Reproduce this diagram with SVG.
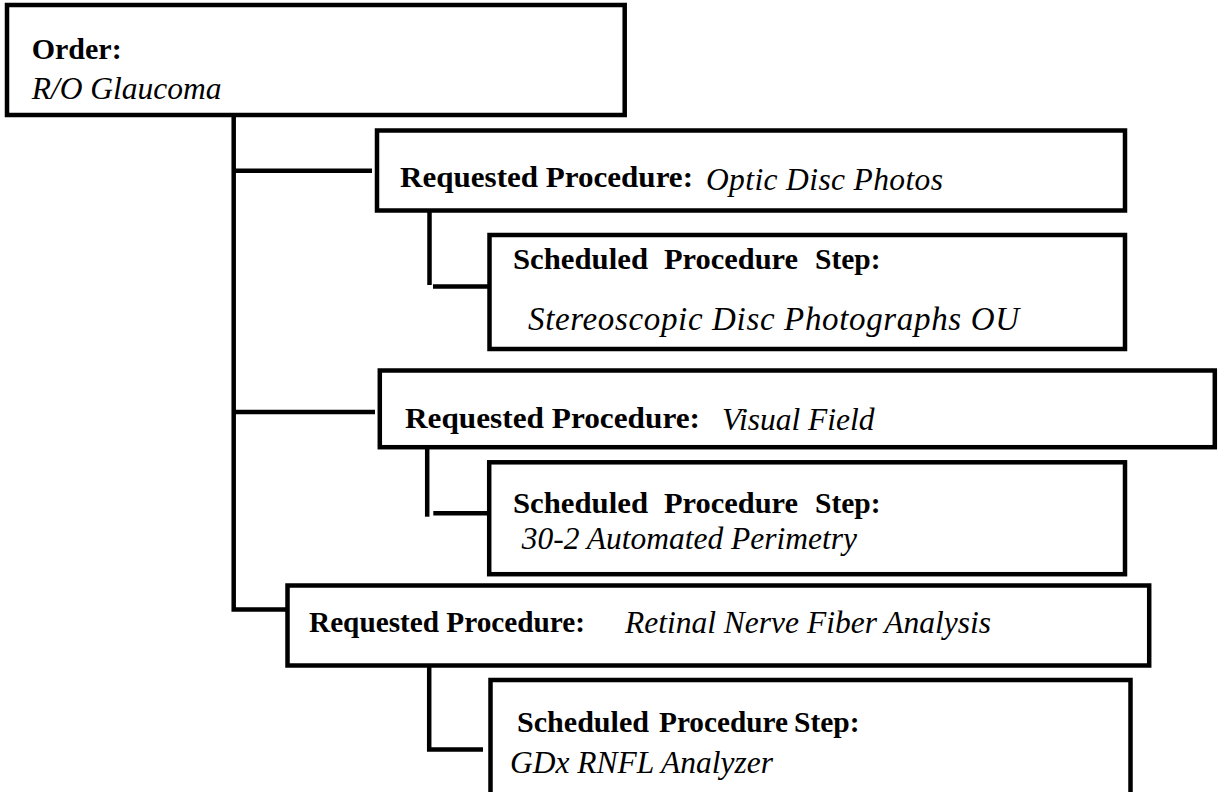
<svg xmlns="http://www.w3.org/2000/svg" width="1218" height="792" viewBox="0 0 1218 792">
<style>
.box{fill:#fff;stroke:#000;stroke-width:4.5}
.ln{fill:none;stroke:#000;stroke-width:4.5;stroke-linecap:butt;stroke-linejoin:miter}
.b{font-family:"Liberation Serif","Times New Roman",serif;font-weight:bold;font-size:29.5px;fill:#000}
.i{font-family:"Liberation Serif","Times New Roman",serif;font-style:italic;font-size:31.5px;fill:#000}
</style>
<rect width="1218" height="792" fill="#fff"/>
<g id="connectors">
<path class="ln" d="M233.7,115 V609.5 H287.5"/>
<path class="ln" d="M233.7,170.8 H372"/>
<path class="ln" d="M233.7,412 H375"/>
<path class="ln" d="M429.5,203 V285"/>
<path class="ln" d="M433,286.5 H489.5"/>
<path class="ln" d="M427.2,435 V516.7"/>
<path class="ln" d="M433.3,513.3 H489.2"/>
<path class="ln" d="M429.2,665.5 V749.5 H483"/>
</g>
<g id="order">
<rect class="box" x="7" y="5" width="617.7" height="110"/>
<text class="b" x="31.7" y="59" textLength="90" lengthAdjust="spacingAndGlyphs">Order:</text>
<text class="i" x="31.7" y="99">R/O Glaucoma</text>
</g>
<g id="rp1">
<rect class="box" x="377" y="130.5" width="748" height="80"/>
<text class="b" x="400" y="187" textLength="293" lengthAdjust="spacingAndGlyphs">Requested Procedure:</text>
<text class="i" x="706" y="190" textLength="237" lengthAdjust="spacing">Optic Disc Photos</text>
</g>
<g id="sps1">
<rect class="box" x="489.5" y="235" width="635.5" height="114"/>
<text class="b" y="269"><tspan x="513" textLength="135" lengthAdjust="spacingAndGlyphs">Scheduled</tspan><tspan x="664" textLength="134" lengthAdjust="spacingAndGlyphs">Procedure</tspan><tspan x="815">Step:</tspan></text>
<text class="i" x="528" y="330" style="font-size:33px" textLength="491" lengthAdjust="spacing">Stereoscopic Disc Photographs OU</text>
</g>
<g id="rp2">
<rect class="box" x="379.8" y="370.5" width="835" height="76.7"/>
<text class="b" x="405" y="428" textLength="295" lengthAdjust="spacingAndGlyphs">Requested Procedure:</text>
<text class="i" x="722" y="430">Visual Field</text>
</g>
<g id="sps2">
<rect class="box" x="489.2" y="462.3" width="635.8" height="111.9"/>
<text class="b" y="513"><tspan x="513" textLength="135" lengthAdjust="spacingAndGlyphs">Scheduled</tspan><tspan x="664" textLength="134" lengthAdjust="spacingAndGlyphs">Procedure</tspan><tspan x="815">Step:</tspan></text>
<text class="i" x="521.7" y="549">30-2 Automated Perimetry</text>
</g>
<g id="rp3">
<rect class="box" x="287.5" y="585.5" width="861.7" height="80"/>
<text class="b" x="309" y="632" textLength="276" lengthAdjust="spacingAndGlyphs">Requested Procedure:</text>
<text class="i" x="625" y="633">Retinal Nerve Fiber Analysis</text>
</g>
<g id="sps3">
<rect class="box" x="490.5" y="680" width="640" height="120"/>
<text class="b" y="732"><tspan x="517" textLength="132" lengthAdjust="spacingAndGlyphs">Scheduled</tspan><tspan x="659" textLength="129" lengthAdjust="spacingAndGlyphs">Procedure</tspan><tspan x="794">Step:</tspan></text>
<text class="i" x="510" y="773">GDx RNFL Analyzer</text>
</g>
</svg>
